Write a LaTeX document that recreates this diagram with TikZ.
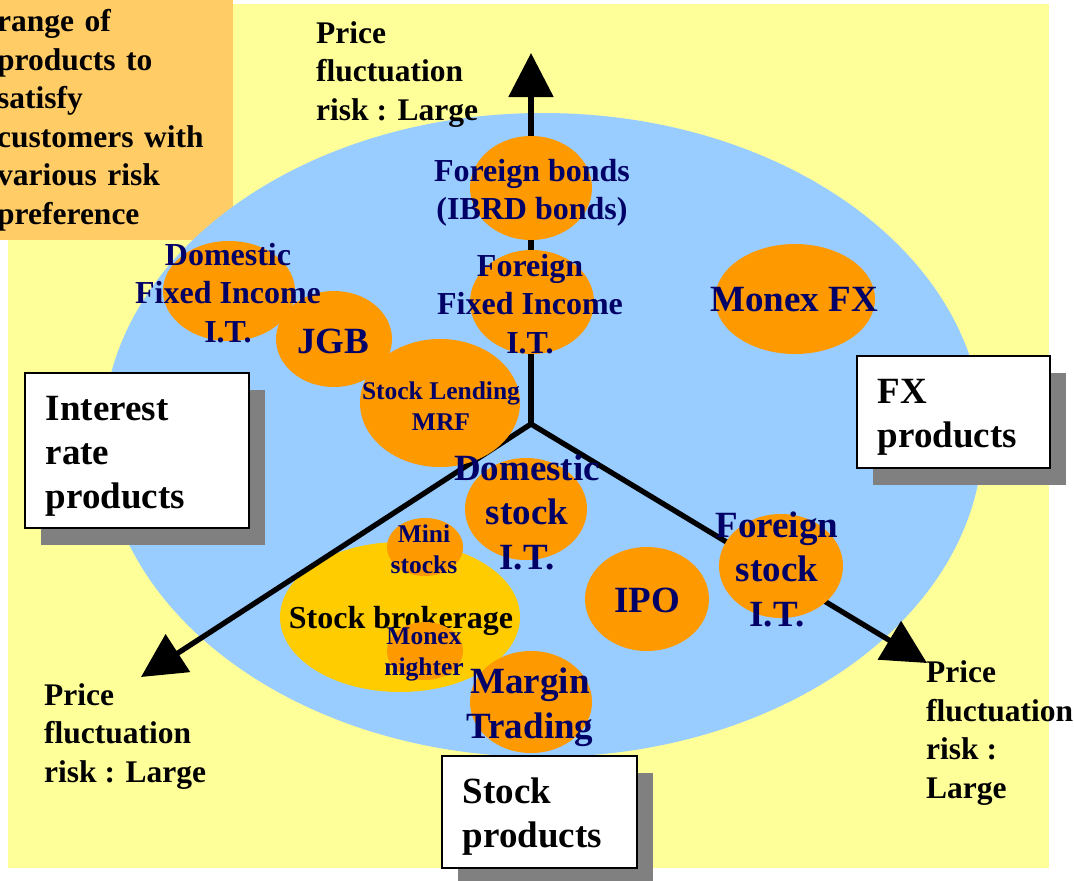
\documentclass[tikz,border=0pt]{standalone}
\usepackage{fontspec}
\setmainfont{Liberation Serif}
\usetikzlibrary{shapes.geometric, arrows.meta, shadows}
\definecolor{bgyellow}{RGB}{255,255,153}
\definecolor{poolblue}{RGB}{153,204,255}
\definecolor{prodorange}{RGB}{255,153,0}
\definecolor{brokyellow}{RGB}{255,204,0}
\definecolor{noteorange}{RGB}{255,204,102}
\definecolor{labelnavy}{RGB}{0,0,102}
\definecolor{shadowgray}{RGB}{128,128,128}
\newcommand{\boxstrut}{\rule{0pt}{36pt}}
\tikzset{
	axis/.style={
		draw=black,
		line width=5.3pt,
		line cap=round,
		-{Triangle[length=44pt,width=44pt]}
	},
	product/.style={
		ellipse,
		fill=prodorange,
		inner sep=0pt
	},
	prodlabel/.style={
		text=labelnavy,
		align=center,
		inner sep=0pt,
		font=\bfseries\fontsize{32}{38.5}\selectfont
	},
	biglabel/.style={prodlabel, font=\bfseries\fontsize{37}{44.5}\selectfont},
	smalllabel/.style={prodlabel, font=\bfseries\fontsize{25.5}{31}\selectfont},
	category/.style={
		draw=black,
		line width=1.5pt,
		fill=white,
		rectangle,
		anchor=north west,
		align=left,
		inner xsep=21pt,
		inner ysep=0pt,
		font=\bfseries\fontsize{37}{44}\selectfont,
		drop shadow={shadow xshift=16pt, shadow yshift=-17pt, fill=shadowgray, opacity=1}
	},
	risklabel/.style={
		anchor=base west,
		align=left,
		inner sep=0pt,
		font=\bfseries\fontsize{31.5}{38.5}\selectfont
	},
}

\begin{document}
\begin{tikzpicture}[x=1pt,y=-1pt]
\useasboundingbox (0,0) rectangle (1074,881);

% Background
\fill[bgyellow] (8,4) rectangle (1049,868);

% Note
\node[
	fill=noteorange,
	anchor=north west,
	inner sep=0pt,
	text width=236pt,
	minimum height=240pt,
	align=left,
	font=\bfseries\fontsize{31.5}{38.5}\selectfont
] (note) at (-3,0) {range of\\products to\\satisfy\\customers with\\various risk\\preference};

% Product range
\node[ellipse, fill=poolblue, inner sep=0pt, minimum width=880pt, minimum height=644pt] (pool) at (543,435) {};

% Stock brokerage
\node[ellipse, fill=brokyellow, inner sep=0pt, minimum width=240pt, minimum height=150pt] (broker) at (400,617) {};
\node[prodlabel, text=black] (brokerL) at (401,621) {Stock brokerage};

% Axes
\coordinate (hub) at (531,424);
\coordinate (tipN) at (531,53);
\coordinate (tipSW) at (141,677);
\coordinate (tipSE) at (927,663);
\draw[axis] (hub) -- (tipN);
\draw[axis] (hub) -- (tipSW);
\draw[axis] (hub) -- (tipSE);

% Products
\node[product, minimum width=122pt, minimum height=104pt] (fbond) at (531,188) {};
\node[product, minimum width=124pt, minimum height=104pt] (ffi) at (532,302) {};
\node[product, minimum width=132pt, minimum height=100pt] (dfi) at (229,291) {};
\node[product, minimum width=116pt, minimum height=96pt] (jgb) at (334,339) {};
\node[product, minimum width=160pt, minimum height=128pt] (lend) at (440,403) {};
\node[product, minimum width=160pt, minimum height=110pt] (monexfx) at (795,299) {};
\node[product, minimum width=122pt, minimum height=102pt] (dstock) at (526,509) {};
\node[product, minimum width=124pt, minimum height=104pt] (ipo) at (647,599) {};
\node[product, minimum width=124pt, minimum height=104pt] (fstock) at (781,566) {};
\node[product, minimum width=122pt, minimum height=102pt] (margin) at (531,702) {};
\node[product, minimum width=76pt, minimum height=58pt] (mini) at (425,547) {};
\node[product, minimum width=76pt, minimum height=58pt] (nighter) at (425,651) {};

% Product labels
\node[prodlabel] (fbondL) at (532,193) {Foreign bonds\\(IBRD bonds)};
\node[prodlabel] (ffiL) at (530,304) {Foreign\\Fixed Income\\I.T.};
\node[prodlabel] (dfiL) at (228,293) {Domestic\\Fixed Income\\I.T.};
\node[biglabel] (jgbL) at (333,341) {JGB};
\node[smalllabel] (lendL) at (441,406) {Stock Lending\\MRF};
\node[biglabel] (monexfxL) at (794,300) {Monex FX};
\node[biglabel] (dstockL) at (527,512) {Domestic\\stock\\I.T.};
\node[biglabel] (ipoL) at (647,600) {IPO};
\node[biglabel] (fstockL) at (777,569) {Foreign\\stock\\I.T.};
\node[biglabel] (marginL) at (530,707) {Margin\\Trading};
\node[smalllabel] (miniL) at (424,549) {Mini\\stocks};
\node[smalllabel] (nighterL) at (424,654) {Monex\\nighter};

% Categories
\node[category, text width=182pt, minimum height=155pt] (rateBox) at (24,372) {\boxstrut Interest\\rate\\products};
\node[category, text width=151pt, minimum height=112pt] (fxBox) at (856,355) {\boxstrut FX\\products};
\node[category, text width=153pt, minimum height=112pt] (stockBox) at (441,755) {\boxstrut Stock\\products};

% Risk labels (base = last line)
\node[risklabel] (riskN) at (316,120) {Price\\fluctuation\\risk : Large};
\node[risklabel] (riskSW) at (44,782) {Price\\fluctuation\\risk : Large};
\node[risklabel] (riskSE) at (926,798) {Price\\fluctuation\\risk :\\Large};

\end{tikzpicture}
\end{document}
